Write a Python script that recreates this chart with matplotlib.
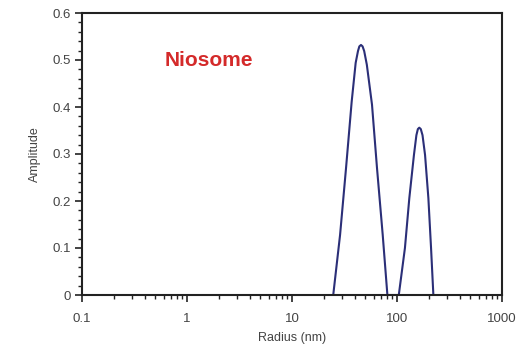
import matplotlib
matplotlib.use("Agg")
import matplotlib.pyplot as plt
from matplotlib.ticker import LogLocator, FixedLocator, NullFormatter, FixedFormatter

plt.rcParams['font.family'] = ['Liberation Sans', 'DejaVu Sans']

# Data
radius_nm = [24.7, 28.7, 32.7, 37.0, 40.4, 42.5, 43.8, 45.4, 47.0, 48.7, 51.6, 57.8, 64.5, 73.1, 81.0,
             104.0, 119.0, 131.0, 145.0, 153.0, 158.0, 163.0, 168.5, 175.0, 185.0, 199.0, 211.0, 222.0]
amplitude = [0.0, 0.128, 0.270, 0.411, 0.494, 0.519, 0.529, 0.532, 0.529, 0.519, 0.490, 0.405, 0.270, 0.128, 0.0,
             0.0, 0.100, 0.206, 0.298, 0.340, 0.353, 0.356, 0.353, 0.340, 0.298, 0.206, 0.100, 0.0]

x_ticks = [0.1, 1, 10, 100, 1000]
x_tick_labels = ["0.1", "1", "10", "100", "1000"]
y_ticks = [0, 0.1, 0.2, 0.3, 0.4, 0.5, 0.6]
y_tick_labels = ["0", "0.1", "0.2", "0.3", "0.4", "0.5", "0.6"]
sample_label = "Niosome"

fig = plt.figure(figsize=(5.28, 3.58), dpi=100)
ax = fig.add_axes([82/528, 1 - 295/358, 420/528, 282/358])

ax.plot(radius_nm, amplitude, color="#2b2f78", lw=1.5, solid_joinstyle="round")

ax.set_xscale("log")
ax.set_xlim(0.1, 1000)
ax.set_ylim(0, 0.6)

ax.xaxis.set_major_locator(FixedLocator(x_ticks))
ax.xaxis.set_major_formatter(FixedFormatter(x_tick_labels))
ax.xaxis.set_minor_locator(LogLocator(base=10, subs=range(2, 10)))
ax.xaxis.set_minor_formatter(NullFormatter())

ax.yaxis.set_major_locator(FixedLocator(y_ticks))
ax.yaxis.set_major_formatter(FixedFormatter(y_tick_labels))
ax.yaxis.set_minor_locator(FixedLocator([i * 0.02 for i in range(31)]))

for s in ax.spines.values():
    s.set_linewidth(1.5)
    s.set_color("#222222")

ax.tick_params(axis="both", which="major", direction="out", length=5, width=1.2,
               colors="#222222", labelcolor="#444444", labelsize=9.5)
ax.tick_params(axis="both", which="minor", direction="out", length=3, width=1.0, colors="#222222")
ax.tick_params(axis="x", which="major", pad=8)
ax.tick_params(axis="y", which="major", pad=3)
ax.tick_params(top=False, right=False, which="both")

ax.set_xlabel("Radius (nm)", fontsize=9, color="#444444", labelpad=5)
ax.set_ylabel("Amplitude", fontsize=9, color="#444444", labelpad=8)

ax.text(0.302, 0.83, sample_label, transform=ax.transAxes, ha="center", va="center",
        fontsize=15, color="#d42a2a", fontweight="bold")

fig.savefig("out.png", dpi=100, facecolor="white")
